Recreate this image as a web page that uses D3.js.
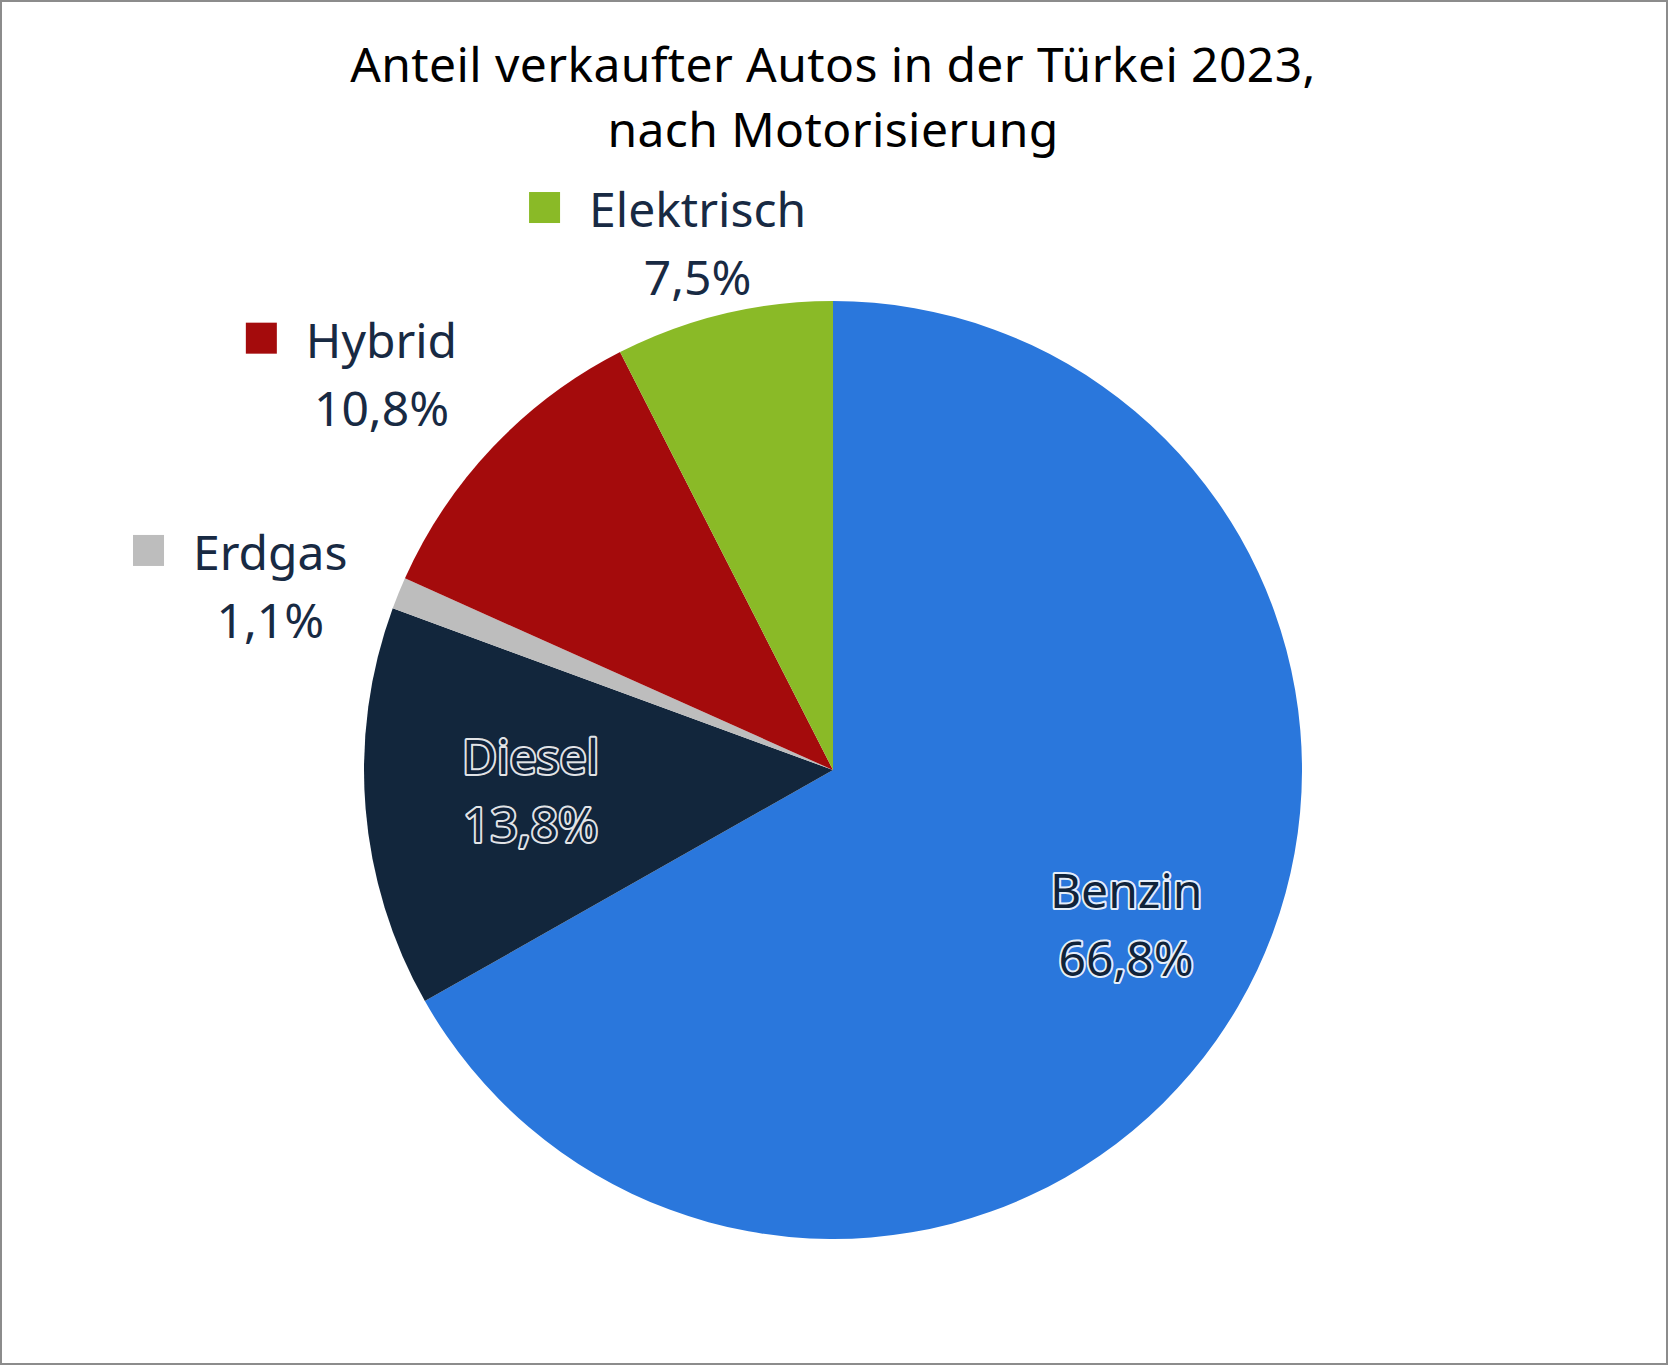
<!DOCTYPE html>
<html>
<head>
<meta charset="utf-8">
<script src="https://cdn.jsdelivr.net/npm/d3@7"></script>
<style>
  body { margin: 0; background: #fff; }
  svg { display: block; }
</style>
</head>
<body>
<svg id="chart"></svg>
<script>
// data
const categories = ["Benzin", "Diesel", "Erdgas", "Hybrid", "Elektrisch"];
const shares = [66.8, 13.8, 1.1, 10.8, 7.5];
const colors = ["#2a77dc", "#12263c", "#bdbdbd", "#a40b0c", "#8aba27"];
const titleLines = ["Anteil verkaufter Autos in der Türkei 2023,", "nach Motorisierung"];

// layout
const width = 1668;
const height = 1365;
const cx = 833, cy = 770, radius = 469;
const textColor = "#182a43";
const lineGap = 34;
// where each label sits: radius factor + small angle shift (deg), inside or outside
const labelLayout = {
  Benzin:     { k: 0.725, da: 0.2,  inside: true },
  Diesel:     { k: 0.65,  da: -2.5, inside: true },
  Erdgas:     { k: 1.251, da: -5.7, inside: false },
  Hybrid:     { k: 1.256, da: -3.6, inside: false },
  Elektrisch: { k: 1.123, da: -1.4, inside: false },
};

const fmt = (v) => d3.format(".1f")(v).replace(".", ",") + "%";

const svg = d3.select("#chart").attr("width", width).attr("height", height);

svg.append("rect")
  .attr("x", 1).attr("y", 1)
  .attr("width", width - 2).attr("height", height - 2)
  .attr("fill", "#fff")
  .attr("stroke", "#8c8c8c")
  .attr("stroke-width", 2);

// title
svg.append("text")
  .attr("x", cx)
  .attr("y", 82)
  .attr("text-anchor", "middle")
  .style("font-family", "'Noto Sans', sans-serif")
  .style("font-size", "48px")
  .style("letter-spacing", "0.4px")
  .attr("fill", "#000")
  .selectAll("tspan")
  .data(titleLines)
  .join("tspan")
  .attr("x", cx)
  .attr("dy", (d, i) => (i === 0 ? 0 : 65))
  .text((d) => d);

const rows = categories.map((c, i) => ({ name: c, value: shares[i], color: colors[i] }));

const pie = d3.pie().sort(null).value((d) => d.value);
const arcs = pie(rows);
const arc = d3.arc().innerRadius(0).outerRadius(radius);

const g = svg.append("g").attr("transform", `translate(${cx},${cy})`);

g.selectAll("path")
  .data(arcs)
  .join("path")
  .attr("d", arc)
  .attr("fill", (d) => d.data.color);

// labels
function anchor(d) {
  const lay = labelLayout[d.data.name];
  const a = (d.startAngle + d.endAngle) / 2 + (lay.da * Math.PI) / 180;
  const r = radius * lay.k;
  return [r * Math.sin(a), -r * Math.cos(a)];
}

const labels = g.selectAll("g.label")
  .data(arcs)
  .join("g")
  .attr("class", "label")
  .attr("transform", (d) => `translate(${anchor(d)})`);

labels.each(function (d) {
  const lay = labelLayout[d.data.name];
  const el = d3.select(this);
  const lines = [d.data.name, fmt(d.data.value)];
  const texts = el.selectAll("text")
    .data(lines)
    .join("text")
    .attr("x", 0)
    .attr("y", (t, i) => (i === 0 ? -lineGap : lineGap))
    .attr("text-anchor", "middle")
    .style("font-family", "'Noto Sans', 'Open Sans', sans-serif")
    .style("font-size", "48px")
    .attr("fill", lay.inside ? "#10233a" : textColor)
    .text((t) => t);

  if (lay.inside) {
    texts
      .attr("stroke", "#ffffff")
      .attr("stroke-width", 4)
      .attr("stroke-linejoin", "round")
      .attr("stroke-opacity", 0.9)
      .style("paint-order", "stroke");
  } else {
    const w = texts.nodes()[0].getComputedTextLength();
    el.append("rect")
      .attr("x", -w / 2 - 29 - 31)
      .attr("y", -lineGap - 35)
      .attr("width", 31)
      .attr("height", 31)
      .attr("fill", d.data.color);
  }
});
</script>
</body>
</html>
